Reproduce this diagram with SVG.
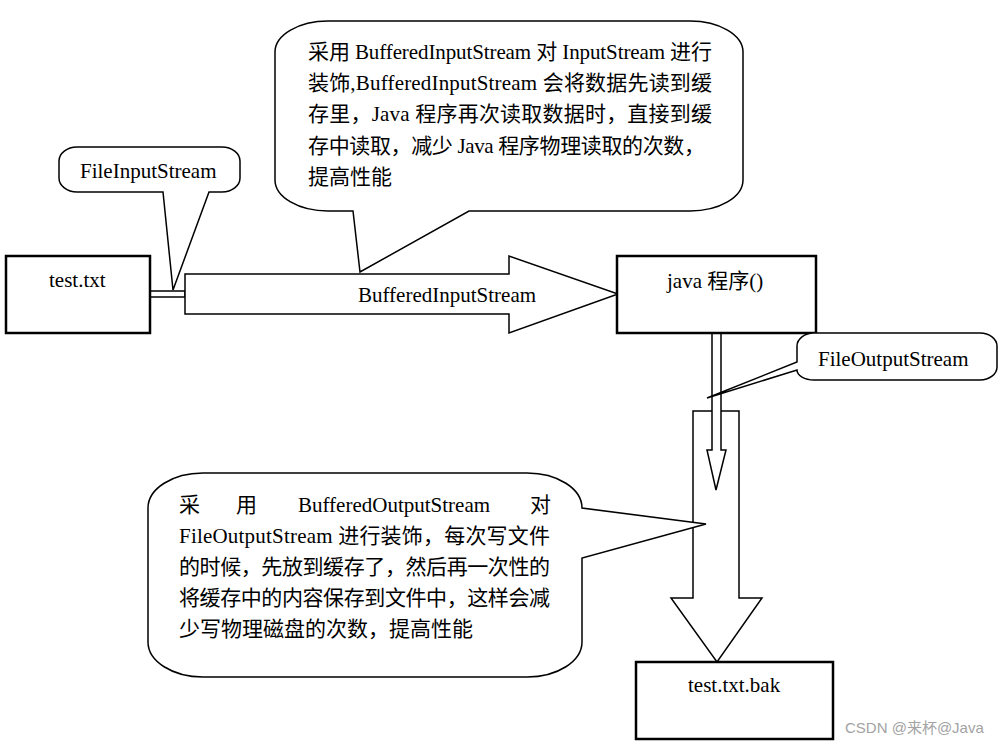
<svg xmlns="http://www.w3.org/2000/svg" width="1003" height="746" viewBox="0 0 1003 746">
<style>
.box{fill:#fff;stroke:#000;stroke-width:2.5}
.arr{fill:#fff;stroke:#000;stroke-width:1.5;stroke-linejoin:miter}
.call{fill:#fff;stroke:#000;stroke-width:1.5}
.t{font-family:"Liberation Serif","Noto Sans CJK SC",serif;font-size:21px;fill:#000}
.wm{font-family:"Liberation Sans","Noto Sans CJK SC",sans-serif;font-size:15px;fill:#a3a3a3}
</style>
<rect width="1003" height="746" fill="#fff"/>
<g id="connectors">
<rect class="arr" x="150" y="291" width="35" height="6"/>
<polygon class="arr" points="185,274 509,274 509,256 618,294 509,333 509,314 185,314"/>
<text class="t" x="358" y="302">BufferedInputStream</text>
<polygon class="arr" points="693,411 739,411 739,598 762,598 717,662 671,598 693,598"/>
<polygon class="arr" points="712,333 721,333 721,450 726,450 716,490 707,450 712,450"/>
</g>
<g id="node-test-txt">
<rect class="box" x="6" y="256" width="144" height="77"/>
<text class="t" x="49" y="287">test.txt</text>
</g>
<g id="node-java">
<rect class="box" x="617" y="256" width="199" height="77"/>
<text class="t" x="667" y="288">java 程序()</text>
</g>
<g id="node-bak">
<rect class="box" x="636" y="662" width="197" height="77"/>
<text class="t" x="688" y="692">test.txt.bak</text>
</g>
<g id="callout-fileinput">
<path class="call" d="M77,147 H222 A18 14 0 0 1 240,161 V178 A18 14 0 0 1 222,192 H209 L173,290 L163,192 H77 A18 14 0 0 1 59,178 V161 A18 14 0 0 1 77,147 Z"/>
<text class="t" x="80" y="178">FileInputStream</text>
</g>
<g id="callout-buffered-input">
<path class="call" d="M328,21 H690 A53 31 0 0 1 743,52 V180 A53 31 0 0 1 690,211 H469 L360,272 L353,211 H328 A53 31 0 0 1 275,180 V52 A53 31 0 0 1 328,21 Z"/>
<text class="t" x="308" y="59" textLength="404" lengthAdjust="spacing">采用 BufferedInputStream 对 InputStream 进行</text>
<text class="t" x="308" y="90" textLength="404" lengthAdjust="spacing">装饰,BufferedInputStream 会将数据先读到缓</text>
<text class="t" x="308" y="121" textLength="404" lengthAdjust="spacing">存里，Java 程序再次读取数据时，直接到缓</text>
<text class="t" x="308" y="153" textLength="397" lengthAdjust="spacing">存中读取，减少 Java 程序物理读取的次数，</text>
<text class="t" x="308" y="184">提高性能</text>
</g>
<g id="callout-fileoutput">
<path class="call" d="M814,333 H980 A17 13 0 0 1 997,346 V367 A17 13 0 0 1 980,380 H814 A17 10 0 0 1 797,370 L707,398 L797,362 V346 A17 13 0 0 1 814,333 Z"/>
<text class="t" x="818" y="366">FileOutputStream</text>
</g>
<g id="callout-buffered-output">
<path class="call" d="M203,473 H527 A55 35 0 0 1 582,508 L706,524 L582,558 V642 A55 35 0 0 1 527,677 H203 A55 35 0 0 1 148,642 V508 A55 35 0 0 1 203,473 Z"/>
<text class="t" y="512"><tspan x="179">采</tspan><tspan x="236">用</tspan><tspan x="298">BufferedOutputStream</tspan><tspan x="530">对</tspan></text>
<text class="t" x="179" y="543" textLength="371" lengthAdjust="spacing">FileOutputStream 进行装饰，每次写文件</text>
<text class="t" x="179" y="574" textLength="371" lengthAdjust="spacing">的时候，先放到缓存了，然后再一次性的</text>
<text class="t" x="179" y="605" textLength="371" lengthAdjust="spacing">将缓存中的内容保存到文件中，这样会减</text>
<text class="t" x="179" y="636">少写物理磁盘的次数，提高性能</text>
</g>
<text class="wm" x="845" y="733">CSDN @来杯@Java</text>
</svg>
